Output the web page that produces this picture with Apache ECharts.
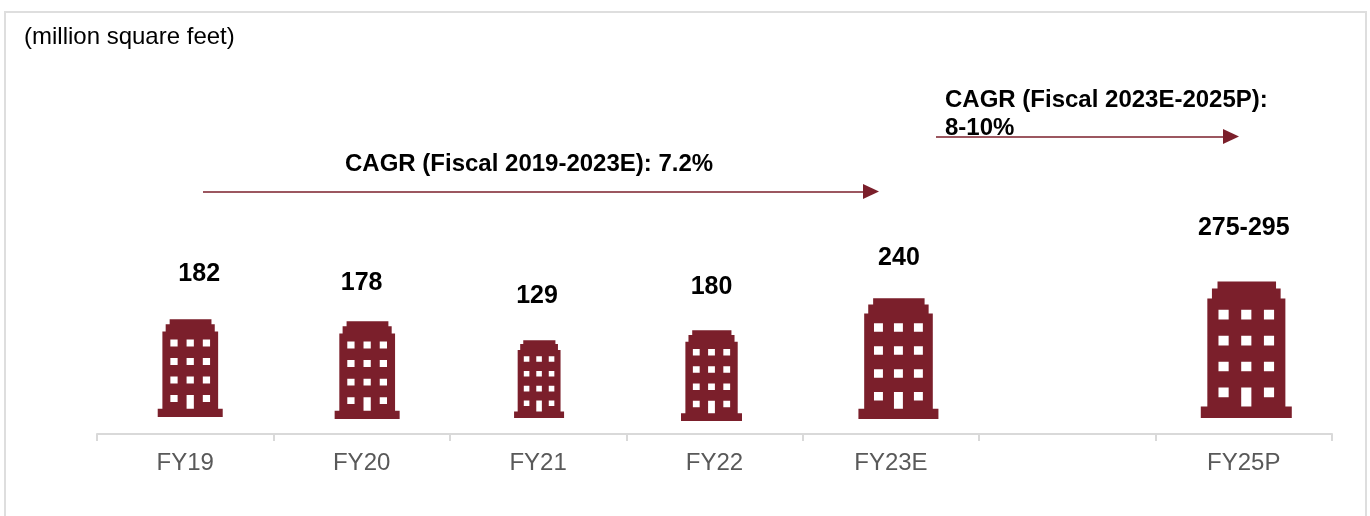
<!DOCTYPE html>
<html><head><meta charset="utf-8">
<style>html,body{margin:0;padding:0;background:#fff}#c{width:1370px;height:516px}</style>
<script src="https://cdn.jsdelivr.net/npm/echarts@6/dist/echarts.min.js"></script>
</head><body><div id="c"></div>
<script>
const categories = ['FY19','FY20','FY21','FY22','FY23E','','FY25P'];
const values = [182,178,129,180,240,null,285];
const valueLabels = ['182','178','129','180','240','','275-295'];
const unitText = '(million square feet)';
const cagrLeft = 'CAGR (Fiscal 2019-2023E): 7.2%';
const cagrRight = 'CAGR (Fiscal 2023E-2025P):\n8-10%';

const iconWidths = [65,65,50,61,80,0,91];
const iconScale = ['107.7%','110%','121%','101%','100.8%','100%','96%'];
const iconDx = [5,5.5,1,-3,7.5,0,2.5];
const iconDy = [-17,-15,-16,-13,-15,0,-16];
const labelDx = [14,0,-1,-3,8,0,0];
const labelDy = [-28,-21,-27,-26,-23,0,-36];

const RED = '#7b1f2b';
function win(x,y,w,h){return `M${x} ${y}L${x} ${y+h}L${x+w} ${y+h}L${x+w} ${y}Z`;}
let icon = 'path://M120 0L540 0L540 50L573 50L573 123L607 123L607 900L653 900L653 983L0 983L0 900L47 900L47 123L80 123L80 50L120 50Z';
[127,290,453].forEach(x=>{[203,390,577].forEach(y=>{icon+=win(x,y,73,70);});});
icon += win(127,763,73,70)+win(453,763,73,70)+win(290,763,73,137);

const chart = echarts.init(document.getElementById('c'),null,{renderer:'canvas'});
chart.setOption({
  animation:false,
  backgroundColor:'#fff',
  grid:{left:97,right:38,top:12,bottom:82,containLabel:false,outerBoundsMode:'none'},
  xAxis:{type:'category',data:categories,
    axisLine:{lineStyle:{color:'#d9d9d9',width:2}},
    axisTick:{show:true,length:7,alignWithLabel:false,lineStyle:{color:'#d9d9d9',width:2}},
    axisLabel:{color:'#595959',fontFamily:'Liberation Sans',fontSize:24,margin:17,interval:0}},
  yAxis:{type:'value',min:0,max:846,show:false,splitLine:{show:false}},
  graphic:[
    {type:'rect',shape:{x:5,y:12,width:1361,height:520},style:{fill:'none',stroke:'#dedede',lineWidth:2},silent:true},
    {type:'text',left:24,top:25,style:{text:unitText,font:'24px "Liberation Sans"',fill:'#000'}},
    {type:'text',left:345,top:152,style:{text:cagrLeft,font:'bold 24px "Liberation Sans"',fill:'#000'}},
    {type:'text',left:945,top:86,style:{text:cagrRight,font:'bold 24px "Liberation Sans"',fill:'#000',lineHeight:28}}
  ],
  series:[{
    type:'pictorialBar',
    symbolPosition:'start',
    data:values.map((v,i)=>v==null?null:({value:v,symbol:icon,
      symbolSize:[iconWidths[i],iconScale[i]],
      symbolOffset:[iconDx[i],iconDy[i]],
      itemStyle:{color:RED},
      label:{show:true,position:'top',formatter:valueLabels[i],offset:[labelDx[i],labelDy[i]],
        color:'#000',fontFamily:'Liberation Sans',fontWeight:'bold',fontSize:25}})),
    markLine:{silent:true,animation:false,symbol:['none','triangle'],symbolSize:[15,16],label:{show:false},
      lineStyle:{color:RED,width:1.5,type:'solid'},
      data:[
        [{x:203,y:191.5},{x:871,y:191.5}],
        [{x:936,y:136.5},{x:1231,y:136.5}]
      ]}
  }]
});
</script></body></html>
